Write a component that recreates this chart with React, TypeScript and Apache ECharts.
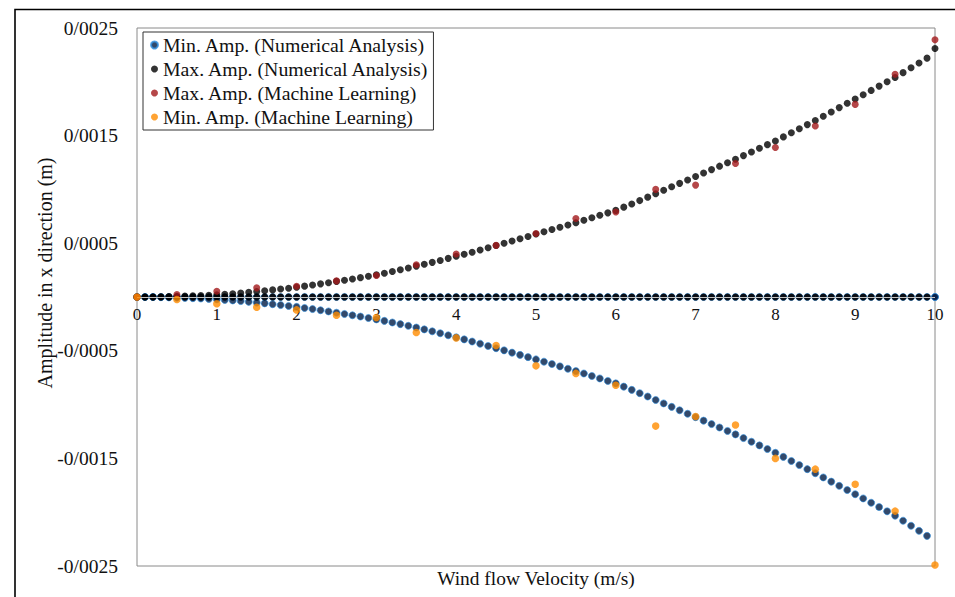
import React, { useEffect, useRef } from "react";
import * as echarts from "echarts";

// Wind flow velocity (m/s) for the numerical analysis
const velocity = [
  0, 0.1, 0.2, 0.3, 0.4, 0.5, 0.6, 0.7, 0.8, 0.9,
  1, 1.1, 1.2, 1.3, 1.4, 1.5, 1.6, 1.7, 1.8, 1.9,
  2, 2.1, 2.2, 2.3, 2.4, 2.5, 2.6, 2.7, 2.8, 2.9,
  3, 3.1, 3.2, 3.3, 3.4, 3.5, 3.6, 3.7, 3.8, 3.9,
  4, 4.1, 4.2, 4.3, 4.4, 4.5, 4.6, 4.7, 4.8, 4.9,
  5, 5.1, 5.2, 5.3, 5.4, 5.5, 5.6, 5.7, 5.8, 5.9,
  6, 6.1, 6.2, 6.3, 6.4, 6.5, 6.6, 6.7, 6.8, 6.9,
  7, 7.1, 7.2, 7.3, 7.4, 7.5, 7.6, 7.7, 7.8, 7.9,
  8, 8.1, 8.2, 8.3, 8.4, 8.5, 8.6, 8.7, 8.8, 8.9,
  9, 9.1, 9.2, 9.3, 9.4, 9.5, 9.6, 9.7, 9.8, 9.9,
  10,
];

// Max. amplitude (numerical analysis), m
const maxNumerical = [
  0, 0.02e-5, 0.08e-5, 0.2e-5, 0.35e-5, 0.55e-5, 0.8e-5, 1.1e-5, 1.4e-5, 1.7e-5,
  2.1e-5, 2.6e-5, 3.1e-5, 3.7e-5, 4.4e-5, 5.1e-5, 5.8e-5, 6.6e-5, 7.4e-5, 8.2e-5,
  9.1e-5, 10.1e-5, 11.1e-5, 12.2e-5, 13.3e-5, 14.5e-5, 15.6e-5, 16.8e-5, 18.0e-5, 19.3e-5,
  20.6e-5, 22.1e-5, 23.7e-5, 25.3e-5, 27.0e-5, 28.7e-5, 30.4e-5, 32.2e-5, 34.0e-5, 35.9e-5,
  37.8e-5, 39.7e-5, 41.6e-5, 43.6e-5, 45.7e-5, 47.8e-5, 49.9e-5, 52.0e-5, 54.1e-5, 56.3e-5,
  58.5e-5, 60.6e-5, 62.7e-5, 64.8e-5, 66.9e-5, 69.0e-5, 71.3e-5, 73.6e-5, 75.9e-5, 78.2e-5,
  80.5e-5, 83.5e-5, 86.5e-5, 89.6e-5, 92.8e-5, 96.0e-5, 99.2e-5, 102.4e-5, 105.6e-5, 108.8e-5,
  112.0e-5, 115.2e-5, 118.4e-5, 121.6e-5, 124.8e-5, 128.0e-5, 131.4e-5, 134.8e-5, 138.2e-5, 141.6e-5,
  145.0e-5, 148.8e-5, 152.6e-5, 156.4e-5, 160.2e-5, 164.0e-5, 168.0e-5, 172.0e-5, 176.0e-5, 180.0e-5,
  184.0e-5, 188.0e-5, 192.0e-5, 196.0e-5, 200.0e-5, 204.0e-5, 208.5e-5, 213.0e-5, 217.5e-5, 222.0e-5,
  231.0e-5,
];

// Min. amplitude (numerical analysis), m
const minNumerical = [
  0, -0.02e-5, -0.08e-5, -0.2e-5, -0.36e-5, -0.56e-5, -0.8e-5, -1.1e-5, -1.4e-5, -1.8e-5,
  -2.2e-5, -2.7e-5, -3.2e-5, -3.8e-5, -4.5e-5, -5.2e-5, -5.9e-5, -6.7e-5, -7.5e-5, -8.3e-5,
  -9.2e-5, -10.2e-5, -11.2e-5, -12.3e-5, -13.4e-5, -14.6e-5, -15.8e-5, -17.0e-5, -18.2e-5, -19.5e-5,
  -20.8e-5, -22.2e-5, -23.7e-5, -25.2e-5, -26.8e-5, -28.4e-5, -30.1e-5, -31.9e-5, -33.7e-5, -35.6e-5,
  -37.5e-5, -39.4e-5, -41.4e-5, -43.4e-5, -45.5e-5, -47.6e-5, -49.6e-5, -51.7e-5, -53.8e-5, -55.9e-5,
  -58.0e-5, -60.1e-5, -62.3e-5, -64.5e-5, -66.7e-5, -68.9e-5, -71.1e-5, -73.4e-5, -75.7e-5, -78.0e-5,
  -80.3e-5, -83.3e-5, -86.3e-5, -89.4e-5, -92.5e-5, -95.7e-5, -98.9e-5, -102.1e-5, -105.3e-5, -108.5e-5,
  -111.7e-5, -114.9e-5, -118.1e-5, -121.3e-5, -124.5e-5, -127.7e-5, -131.1e-5, -134.5e-5, -137.9e-5, -141.3e-5,
  -144.8e-5, -148.6e-5, -152.4e-5, -156.2e-5, -160.0e-5, -163.8e-5, -167.7e-5, -171.6e-5, -175.5e-5, -179.4e-5,
  -183.3e-5, -187.2e-5, -191.2e-5, -195.2e-5, -199.2e-5, -203.2e-5, -207.9e-5, -212.6e-5, -217.3e-5, -222.0e-5,
  0,
];

// Machine learning predictions, every 0.5 m/s
const velocityML = [0, 0.5, 1, 1.5, 2, 2.5, 3, 3.5, 4, 4.5, 5, 5.5, 6, 6.5, 7, 7.5, 8, 8.5, 9, 9.5, 10];
const maxML = [
  0, 0.000023, 0.000054, 0.000085, 0.0001, 0.00015, 0.0002, 0.0003, 0.0004, 0.00048,
  0.00059, 0.00073, 0.00079, 0.001, 0.00104, 0.00124, 0.00139, 0.00159, 0.00179, 0.00207,
  0.00239,
];
const minML = [
  0, -0.000023, -0.000063, -0.000095, -0.00012, -0.00017, -0.00019, -0.00033, -0.00038, -0.00045,
  -0.00064, -0.00071, -0.00082, -0.0012, -0.00111, -0.00119, -0.0015, -0.0016, -0.00174, -0.00199,
  -0.00249,
];

// Numerical analysis also returns a zero amplitude at every velocity
const zeroAmplitude = 0;

const gridValues = [0.0015, 0.0005, -0.0005, -0.0015];

const seriesNames = [
  "Min. Amp. (Numerical Analysis)",
  "Max. Amp. (Numerical Analysis)",
  "Max. Amp. (Machine Learning)",
  "Min. Amp. (Machine Learning)",
];

const FONT = "Liberation Serif";

export default function App() {
  const ref = useRef<HTMLDivElement>(null);

  useEffect(() => {
    document.body.style.margin = "0";
    if (!ref.current) return;
    const chart = echarts.init(ref.current, undefined, { renderer: "svg" });

    const minNumData = [
      ...velocity.map((v) => [v, zeroAmplitude]),
      ...velocity.map((v, i) => [v, minNumerical[i]]),
    ];
    const maxNumData = [
      ...velocity.slice(0, velocity.length - 1).map((v) => [v, zeroAmplitude]),
      ...velocity.map((v, i) => [v, maxNumerical[i]]),
    ];

    const gridTop = 28;
    const gridBottom = 31;
    const gridHeight = 597 - gridTop - gridBottom;

    const option: any = {
      animation: false,
      backgroundColor: "#ffffff",
      textStyle: { fontFamily: FONT },
      grid: {
        left: 137,
        right: 20,
        top: gridTop,
        bottom: gridBottom,
        show: true,
        borderColor: "#8a8a8a",
        borderWidth: 1,
        backgroundColor: "transparent",
      },
      legend: {
        data: seriesNames,
        orient: "vertical",
        left: 143,
        top: 32,
        padding: [3, 4, 3, 7],
        itemGap: 4,
        itemWidth: 7,
        itemHeight: 7,
        icon: "circle",
        backgroundColor: "#ffffff",
        borderColor: "#333333",
        borderWidth: 1,
        textStyle: { fontFamily: FONT, fontSize: 19.8, color: "#111" },
      },
      xAxis: {
        type: "value",
        min: 0,
        max: 10,
        interval: 1,
        offset: -gridHeight / 2,
        axisLine: { onZero: false, lineStyle: { color: "#8a8a8a" } },
        axisTick: { show: false },
        splitLine: { show: false },
        axisLabel: { fontFamily: FONT, fontSize: 17, color: "#111", margin: 9 },
      },
      yAxis: {
        type: "value",
        min: -0.0025,
        max: 0.0025,
        interval: 0.0005,
        axisLine: { show: false },
        axisTick: { show: false },
        splitLine: { show: false },
        axisLabel: {
          fontFamily: FONT,
          fontSize: 19.5,
          color: "#111",
          margin: 19,
          formatter: (v: number) => {
            const k = Math.round(v / 0.0005);
            if (Math.abs(k) % 2 !== 1) return "";
            return v.toFixed(4).replace(".", "/");
          },
        },
      },
      graphic: [
        {
          type: "polyline",
          shape: { points: [[15, 597], [15, 9.5], [955, 9.5]] },
          style: { stroke: "#000", lineWidth: 1.6, fill: "none" },
          silent: true,
        },
        {
          type: "text",
          x: 45,
          y: 273,
          rotation: Math.PI / 2,
          style: {
            text: "Amplitude in x direction (m)",
            fontFamily: FONT,
            fontSize: 20,
            fill: "#111",
            textAlign: "center",
            textVerticalAlign: "middle",
          },
        },
        {
          type: "text",
          x: 536,
          y: 578,
          style: {
            text: "Wind flow Velocity (m/s)",
            fontFamily: FONT,
            fontSize: 19.4,
            fill: "#111",
            textAlign: "center",
            textVerticalAlign: "middle",
          },
        },
      ],
      series: [
        {
          name: "grid",
          type: "scatter",
          data: [],
          z: 1,
          silent: true,
          markLine: {
            silent: true,
            symbol: "none",
            label: { show: false },
            lineStyle: { color: "#c4c4c4", type: "solid", width: 1 },
            data: gridValues.map((g) => ({ yAxis: g })),
          },
        },
        {
          name: seriesNames[0],
          type: "scatter",
          symbolSize: 7,
          z: 2,
          itemStyle: { color: "#001c45", borderColor: "#2f8fe0", borderWidth: 0.8 },
          data: minNumData,
        },
        {
          name: seriesNames[1],
          type: "scatter",
          symbolSize: 7,
          z: 3,
          itemStyle: { color: "#000000" },
          data: maxNumData,
        },
        {
          name: seriesNames[2],
          type: "scatter",
          symbolSize: 7,
          z: 4,
          itemStyle: { color: "#a3191b" },
          data: velocityML.map((v, i) => [v, maxML[i]]),
        },
        {
          name: seriesNames[3],
          type: "scatter",
          symbolSize: 7.5,
          z: 5,
          itemStyle: { color: "#ff8c00" },
          data: velocityML.map((v, i) => [v, minML[i]]),
        },
      ],
    };

    chart.setOption(option);
    return () => chart.dispose();
  }, []);

  return <div ref={ref} style={{ width: 955, height: 597 }} />;
}
